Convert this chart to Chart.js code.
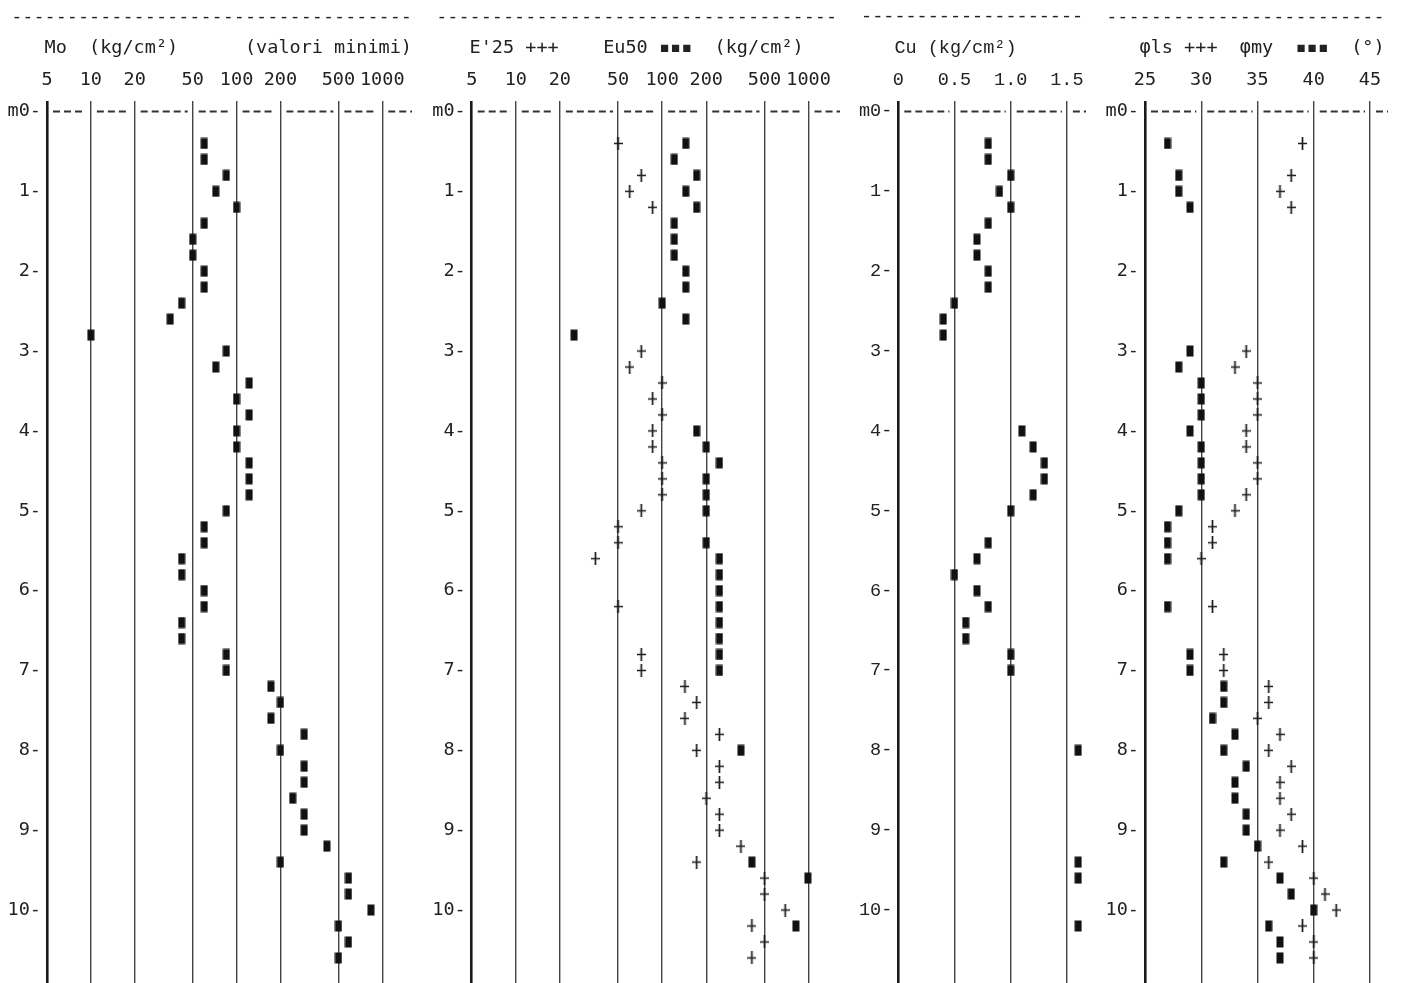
<!DOCTYPE html>
<html>
<head>
<meta charset="utf-8">
<script src="https://cdn.jsdelivr.net/npm/chart.js@4.4.0/dist/chart.umd.min.js"></script>
<style>
  html, body { margin: 0; padding: 0; background: #fff; }
  body { width: 1402px; height: 983px; position: relative; overflow: hidden; }
  canvas { position: absolute; top: 0; }
</style>
</head>
<body>
<canvas id="mo"></canvas>
<canvas id="eu"></canvas>
<canvas id="cu"></canvas>
<canvas id="phi"></canvas>
<script>
// depth of each reading (m), one row every 0.2 m
const depths = [0.4, 0.6, 0.8, 1.0, 1.2, 1.4, 1.6, 1.8, 2.0, 2.2, 2.4, 2.6, 2.8,
  3.0, 3.2, 3.4, 3.6, 3.8, 4.0, 4.2, 4.4, 4.6, 4.8, 5.0,
  5.2, 5.4, 5.6, 5.8, 6.0, 6.2, 6.4, 6.6, 6.8, 7.0,
  7.2, 7.4, 7.6, 7.8, 8.0, 8.2, 8.4, 8.6, 8.8, 9.0,
  9.2, 9.4, 9.6, 9.8, 10.0, 10.2, 10.4, 10.6];

const moValues = [60, 60, 85, 72, 100, 60, 50, 50, 60, 60, 42, 35, 10,
  85, 72, 122, 100, 122, 100, 100, 122, 122, 122, 85,
  60, 60, 42, 42, 60, 60, 42, 42, 85, 85,
  172, 200, 172, 291, 200, 291, 291, 243, 291, 291,
  417, 200, 586, 586, 836, 500, 586, 500];

const e25Values = [50, null, 72, 60, 86, null, null, null, null, null, null, null, null,
  72, 60, 100, 86, 100, 86, 86, 100, 100, 100, 72,
  50, 50, 35, null, null, 50, null, null, 72, 72,
  143, 172, 143, 246, 172, 246, 246, 200, 246, 246,
  345, 172, 500, 500, 693, 410, 500, 410];

const eu50Values = [145, 121, 172, 145, 172, 121, 121, 121, 145, 145, 100, 145, 25,
  null, null, null, null, null, 172, 200, 246, 200, 200, 200,
  null, 200, 246, 246, 246, 246, 246, 246, 246, 246,
  null, null, null, null, 345, null, null, null, null, null,
  null, 410, 990, null, null, 820, null, null];

const cuValues = [0.8, 0.8, 1.0, 0.9, 1.0, 0.8, 0.7, 0.7, 0.8, 0.8, 0.5, 0.4, 0.4,
  null, null, null, null, null, 1.1, 1.2, 1.3, 1.3, 1.2, 1.0,
  null, 0.8, 0.7, 0.5, 0.7, 0.8, 0.6, 0.6, 1.0, 1.0,
  null, null, null, null, 1.6, null, null, null, null, null,
  null, 1.6, 1.6, null, null, 1.6, null, null];

const phiLsValues = [39, null, 38, 37, 38, null, null, null, null, null, null, null, null,
  34, 33, 35, 35, 35, 34, 34, 35, 35, 34, 33,
  31, 31, 30, null, null, 31, null, null, 32, 32,
  36, 36, 35, 37, 36, 38, 37, 37, 38, 37,
  39, 36, 40, 41, 42, 39, 40, 40];

const phiMyValues = [27, null, 28, 28, 29, null, null, null, null, null, null, null, null,
  29, 28, 30, 30, 30, 29, 30, 30, 30, 30, 28,
  27, 27, 27, null, null, 27, null, null, 29, 29,
  32, 32, 31, 33, 32, 34, 33, 33, 34, 34,
  35, 32, 37, 38, 40, 36, 37, 37];

const depthTicks = [0, 1, 2, 3, 4, 5, 6, 7, 8, 9, 10];
const depthLabels = ['m0-', '1-', '2-', '3-', '4-', '5-', '6-', '7-', '8-', '9-', '10-'];
const kgTicks = [5, 10, 20, 50, 100, 200, 500, 1000];
const kgLabels = ['5', '10', '20', '50', '100', '200', '500', '1000'];
const cuTicks = [0, 0.5, 1.0, 1.5];
const cuLabels = ['0', '0.5', '1.0', '1.5'];
const phiTicks = [25, 30, 35, 40, 45];
const phiLabels = ['25', '30', '35', '40', '45'];

const FONT_SIZE = 18.5;
const TITLE_LH = 31;
const TITLE_H = 2 + 2 * TITLE_LH;   // padding top + two title lines
const TOP = 101;                    // top of the plot area

function points(values) {
  return depths.map((d, i) => ({x: values[i], y: d})).filter(p => p.x !== null);
}

function marker(w, h, draw) {
  const c = document.createElement('canvas');
  c.width = w;
  c.height = h;
  draw(c.getContext('2d'), w, h);
  return c;
}

const square = marker(8, 12, (g, w, h) => {
  g.fillStyle = '#111';
  g.fillRect(0.5, 0.5, w - 1, h - 1);
});
const plus = marker(9, 13, (g, w, h) => {
  g.strokeStyle = '#1c1c1c';
  g.lineWidth = 1.7;
  g.beginPath();
  g.moveTo(w / 2, 0); g.lineTo(w / 2, h);
  g.moveTo(0, h / 2); g.lineTo(w, h / 2);
  g.stroke();
});

// the "m0-|---|---|" row: dashes between the vertical lines at depth 0
const rowZero = {
  id: 'rowZero',
  beforeDatasetsDraw(chart) {
    const {ctx, chartArea, scales: {x, y}} = chart;
    const py = y.getPixelForValue(0);
    const xs = x.ticks.map(t => x.getPixelForValue(t.value)).concat(chartArea.right + 5);
    ctx.save();
    ctx.strokeStyle = '#333';
    ctx.lineWidth = 2;
    ctx.setLineDash([7, 4]);
    for (let i = 0; i < xs.length - 1; i++) {
      ctx.beginPath();
      ctx.moveTo(xs[i] + 6, py);
      ctx.lineTo(xs[i + 1] - 5, py);
      ctx.stroke();
    }
    ctx.restore();
  }
};

function panel(id, o) {
  const el = document.getElementById(id);
  el.width = o.width;
  el.height = 983;
  el.style.left = o.left + 'px';
  const font = {family: o.font, size: FONT_SIZE};

  new Chart(el, {
    type: 'scatter',
    data: {
      datasets: o.sets.map(s => ({
        label: s.label,
        data: points(s.values),
        pointStyle: s.style,
        pointRadius: 5,
        pointHoverRadius: 5
      }))
    },
    options: {
      responsive: false,
      animation: false,
      events: [],
      layout: {padding: 0, autoPadding: false},
      plugins: {
        legend: {display: false},
        tooltip: {enabled: false},
        title: {
          display: true,
          text: o.title,
          align: 'start',
          color: '#222',
          font: {family: o.font, size: FONT_SIZE, weight: 'normal', lineHeight: TITLE_LH / FONT_SIZE},
          padding: {top: 2, bottom: 0}
        }
      },
      scales: {
        x: {
          type: o.type,
          position: 'top',
          min: o.min,
          max: o.max,
          afterFit: s => {
            s.height = TOP - TITLE_H;
            s.paddingLeft = 0;
            s.paddingRight = 0;
          },
          afterBuildTicks: s => { s.ticks = o.ticks.map(v => ({value: v})); },
          ticks: {autoSkip: false, maxRotation: 0, padding: 10, color: '#222', font,
            callback: (v, i) => o.labels[i]},
          grid: {
            drawTicks: false,
            color: c => c.index === 0 ? '#1a1a1a' : '#444',
            lineWidth: c => c.index === 0 ? 2.6 : 1.4
          },
          border: {display: false}
        },
        y: {
          type: 'linear',
          reverse: true,
          min: -0.1315,
          max: 10.914,
          afterFit: s => {
            s.width = o.axisWidth;
            s.paddingTop = 0;
            s.paddingBottom = 0;
          },
          afterBuildTicks: s => { s.ticks = depthTicks.map(v => ({value: v})); },
          ticks: {autoSkip: false, padding: 6, color: '#222', font,
            callback: (v, i) => depthLabels[i]},
          grid: {display: false, drawTicks: false},
          border: {display: false}
        }
      }
    },
    plugins: [rowZero]
  });
}

panel('mo', {
  left: 0, width: 412, axisWidth: 47,
  type: 'logarithmic', min: 5, max: 1600, ticks: kgTicks, labels: kgLabels,
  font: 'DejaVu Sans Mono',
  title: [' ' + '-'.repeat(36), '    Mo  (kg/cm²)      (valori minimi)'],
  sets: [{label: 'Mo', values: moValues, style: square}]
});

panel('eu', {
  left: 425, width: 415, axisWidth: 46.7,
  type: 'logarithmic', min: 5, max: 1640, ticks: kgTicks, labels: kgLabels,
  font: 'DejaVu Sans Mono',
  title: [' ' + '-'.repeat(36), "    E'25 +++    Eu50 ▪▪▪  (kg/cm²)"],
  sets: [
    {label: "E'25", values: e25Values, style: plus},
    {label: 'Eu50', values: eu50Values, style: square}
  ]
});

panel('cu', {
  left: 850, width: 236, axisWidth: 48.3,
  type: 'linear', min: 0, max: 1.67, ticks: cuTicks, labels: cuLabels,
  font: 'Liberation Mono',
  title: [' ' + '-'.repeat(20), '    Cu (kg/cm²)'],
  sets: [{label: 'Cu', values: cuValues, style: square}]
});

panel('phi', {
  left: 1095, width: 293, axisWidth: 50,
  type: 'linear', min: 25, max: 46.6, ticks: phiTicks, labels: phiLabels,
  font: 'DejaVu Sans Mono',
  title: [' ' + '-'.repeat(25), '    φls +++  φmy  ▪▪▪  (°)'],
  sets: [
    {label: 'φls', values: phiLsValues, style: plus},
    {label: 'φmy', values: phiMyValues, style: square}
  ]
});
</script>
</body>
</html>
